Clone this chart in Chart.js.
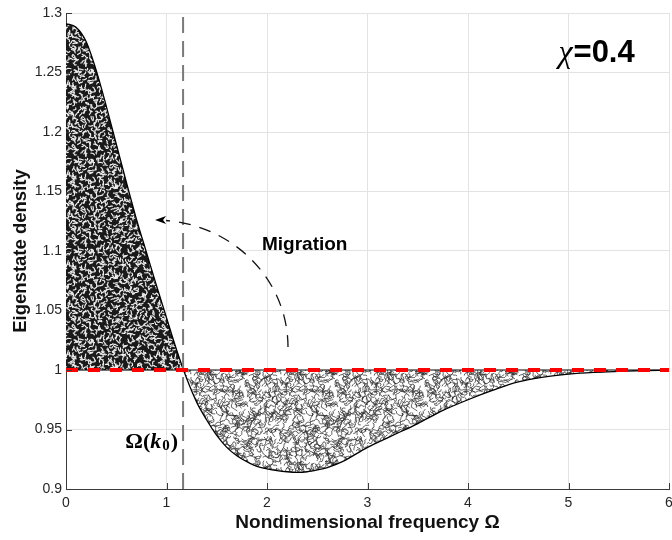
<!DOCTYPE html>
<html>
<head>
<meta charset="utf-8">
<script src="https://cdn.jsdelivr.net/npm/chart.js@4"></script>
<style>
  body { margin: 0; background: #fff; }
  canvas { display: block; }
</style>
</head>
<body>
<canvas id="chart" width="672" height="540"></canvas>
<script>
// values
const omega = [0, 0.1, 0.2, 0.3, 0.4, 0.5, 0.6, 0.7, 0.8, 0.9, 1.0, 1.1, 1.2, 1.3, 1.4, 1.5, 1.6, 1.7, 1.8, 1.9,
               2.0, 2.1, 2.2, 2.3, 2.4, 2.5, 2.6, 2.75, 3.0, 3.25, 3.5, 3.75, 4.0, 4.25, 4.5, 4.75, 5.0, 5.25, 5.5, 5.75, 6.0];
const density = [1.291, 1.288, 1.276, 1.252, 1.222, 1.190, 1.158, 1.127, 1.099, 1.071, 1.044, 1.017, 0.993, 0.973, 0.958, 0.945, 0.935, 0.928, 0.923, 0.919,
                 0.917, 0.9155, 0.9145, 0.914, 0.9145, 0.916, 0.918, 0.923, 0.935, 0.945, 0.955, 0.966, 0.975, 0.983, 0.990, 0.994, 0.9965, 0.998, 0.9988, 0.9994, 0.9997];
const refLevel = 1;
const omegaK0 = 1.165;
const xTicks = [0, 1, 2, 3, 4, 5, 6];
const yTicks = [0.9, 0.95, 1, 1.05, 1.1, 1.15, 1.2, 1.25, 1.3];
const yTickLabels = ['0.9', '0.95', '1', '1.05', '1.1', '1.15', '1.2', '1.25', '1.3'];

// deterministic texture generator (style only, not data)
function lcg(seed) {
    let s = seed >>> 0;
    return () => (s = (Math.imul(s, 1664525) + 1013904223) >>> 0) / 4294967296;
}

// tile of short wiggly strokes, wrapped so it repeats seamlessly
function wormPattern(ctx, opts) {
    const n = 90;
    const c = document.createElement('canvas');
    c.width = c.height = n;
    const g = c.getContext('2d');
    g.fillStyle = opts.bg;
    g.fillRect(0, 0, n, n);
    const rnd = lcg(opts.seed);
    g.strokeStyle = opts.fg;
    g.lineWidth = opts.width;
    g.lineJoin = 'round';
    g.lineCap = 'round';
    // place stroke starts on a jittered grid so the texture stays even
    const cols = Math.ceil(Math.sqrt(opts.count));
    const cell = n / cols;
    for (let i = 0; i < cols * cols; i++) {
        let x = (i % cols + rnd()) * cell, y = (Math.floor(i / cols) + rnd()) * cell, a = rnd() * Math.PI * 2;
        const pts = [[x, y]];
        for (let k = 0; k < opts.steps; k++) {
            a += (rnd() - 0.5) * 2.6;
            x += Math.cos(a) * opts.step;
            y += Math.sin(a) * opts.step;
            pts.push([x, y]);
        }
        for (const ox of [-n, 0, n]) for (const oy of [-n, 0, n]) {
            g.beginPath();
            pts.forEach((p, j) => j ? g.lineTo(p[0] + ox, p[1] + oy) : g.moveTo(p[0] + ox, p[1] + oy));
            g.stroke();
        }
    }
    return ctx.createPattern(c, 'repeat');
}

const sans = '"Liberation Sans", Arial, Helvetica, sans-serif';
const serif = '"Liberation Serif", "Times New Roman", serif';

const annotations = {
    id: 'annotations',
    afterDatasetsDraw(chart) {
        const ctx = chart.ctx;
        const xs = chart.scales.x, ys = chart.scales.y;
        const area = chart.chartArea;
        ctx.save();

        // inward tick marks
        ctx.strokeStyle = '#3a3a3a';
        ctx.lineWidth = 1;
        ctx.beginPath();
        xTicks.forEach(v => {
            const px = Math.round(xs.getPixelForValue(v)) + 0.5;
            ctx.moveTo(px, area.bottom);
            ctx.lineTo(px, area.bottom - 6);
        });
        yTicks.forEach(v => {
            const py = Math.round(ys.getPixelForValue(v)) + 0.5;
            ctx.moveTo(area.left, py);
            ctx.lineTo(area.left + 6, py);
        });
        ctx.stroke();

        // curved migration arrow
        const sx = xs.getPixelForValue(2.209), sy = ys.getPixelForValue(1.0193);
        const tx = xs.getPixelForValue(0.886), ty = ys.getPixelForValue(1.126);
        const rx = sx - tx, ry = sy - ty;
        const headLen = 11;
        const endAng = -Math.acos(headLen / rx);
        ctx.strokeStyle = '#111';
        ctx.lineWidth = 1.3;
        ctx.setLineDash([12, 9]);
        ctx.beginPath();
        ctx.ellipse(tx, sy, rx, ry, 0, 0, endAng, true);
        ctx.stroke();
        ctx.setLineDash([]);
        ctx.fillStyle = '#000';
        ctx.beginPath();
        ctx.moveTo(tx, ty);
        ctx.lineTo(tx + headLen, ty - 4);
        ctx.lineTo(tx + headLen - 3, ty);
        ctx.lineTo(tx + headLen, ty + 4);
        ctx.closePath();
        ctx.fill();

        // text labels
        ctx.fillStyle = '#000';
        ctx.textBaseline = 'alphabetic';
        ctx.textAlign = 'left';
        ctx.font = 'bold 19px ' + sans;
        ctx.fillText('Migration', xs.getPixelForValue(1.95), ys.getPixelForValue(1.1008));

        let cx = xs.getPixelForValue(4.9);
        const cy = ys.getPixelForValue(1.2588);
        ctx.font = 'italic 32px ' + serif;
        ctx.fillText('χ', cx, cy);
        cx += ctx.measureText('χ').width + 1;
        ctx.font = 'bold 31px ' + sans;
        ctx.fillText('=0.4', cx, cy);

        let kx = xs.getPixelForValue(0.59);
        const ky = ys.getPixelForValue(0.9344);
        ctx.font = 'bold 22px ' + serif;
        ctx.fillText('Ω(', kx, ky);
        kx += ctx.measureText('Ω(').width;
        ctx.font = 'bold italic 22px ' + serif;
        ctx.fillText('k', kx, ky);
        kx += ctx.measureText('k').width + 1;
        ctx.font = 'bold 15px ' + serif;
        ctx.fillText('0', kx, ky + 2);
        kx += ctx.measureText('0').width + 1;
        ctx.font = 'bold 22px ' + serif;
        ctx.fillText(')', kx, ky);

        ctx.restore();
    }
};

const canvas = document.getElementById('chart');
const ctx = canvas.getContext('2d');
const darkFill = wormPattern(ctx, { bg: '#1a1a1a', fg: '#eeeeee', width: 1.15, count: 520, steps: 3, step: 1.4, seed: 7 });
const lightFill = wormPattern(ctx, { bg: '#ffffff', fg: '#2e2e2e', width: 0.75, count: 330, steps: 8, step: 1.6, seed: 31 });

new Chart(ctx, {
    type: 'line',
    data: {
        datasets: [{
            data: omega.map((x, i) => ({ x: x, y: density[i] })),
            borderColor: '#000',
            borderWidth: 1.3,
            pointRadius: 0,
            cubicInterpolationMode: 'monotone',
            fill: { target: { value: refLevel }, above: darkFill, below: lightFill },
            order: 4
        }, {
            data: [{ x: 0, y: refLevel }, { x: 6, y: refLevel }],
            borderColor: '#000',
            borderWidth: 1,
            pointRadius: 0,
            fill: false,
            order: 3
        }, {
            data: [{ x: omegaK0, y: 0.9 }, { x: omegaK0, y: 1.3 }],
            borderColor: '#7a7a7a',
            borderWidth: 2,
            borderDash: [16, 8],
            pointRadius: 0,
            fill: false,
            order: 2
        }, {
            data: [{ x: 0, y: refLevel }, { x: 6, y: refLevel }],
            borderColor: '#ff0000',
            borderWidth: 4,
            borderDash: [12, 10],
            borderCapStyle: 'butt',
            pointRadius: 0,
            fill: false,
            order: 1
        }]
    },
    options: {
        responsive: false,
        animation: false,
        devicePixelRatio: 1,
        layout: { padding: { top: 13, right: 3, left: 0, bottom: 0 } },
        plugins: { legend: { display: false }, tooltip: { enabled: false } },
        scales: {
            x: {
                type: 'linear',
                min: 0,
                max: 6,
                afterBuildTicks: s => { s.ticks = xTicks.map(v => ({ value: v })); },
                afterFit: s => { s.height = 51; s.paddingLeft = 0; s.paddingRight = 0; },
                ticks: { color: '#262626', font: { family: sans, size: 14 }, padding: 6 },
                grid: { color: '#e3e3e3', drawTicks: false },
                border: { color: '#3a3a3a', width: 1 },
                title: {
                    display: true,
                    text: 'Nondimensional frequency Ω',
                    color: '#111',
                    font: { family: sans, size: 19, weight: 'bold' },
                    padding: { top: 0, bottom: 6 }
                }
            },
            y: {
                min: 0.9,
                max: 1.3,
                afterBuildTicks: s => { s.ticks = yTicks.map(v => ({ value: v })); },
                afterFit: s => { s.width = 66; s.paddingTop = 0; s.paddingBottom = 0; },
                ticks: { color: '#262626', font: { family: sans, size: 14 }, padding: 4, callback: (v, i) => yTickLabels[i] },
                grid: { color: '#e3e3e3', drawTicks: false },
                border: { color: '#3a3a3a', width: 1 },
                title: {
                    display: true,
                    text: 'Eigenstate density',
                    color: '#111',
                    font: { family: sans, size: 18.5, weight: 'bold' },
                    padding: { top: 10, bottom: 0 }
                }
            }
        }
    },
    plugins: [annotations]
});
</script>
</body>
</html>
